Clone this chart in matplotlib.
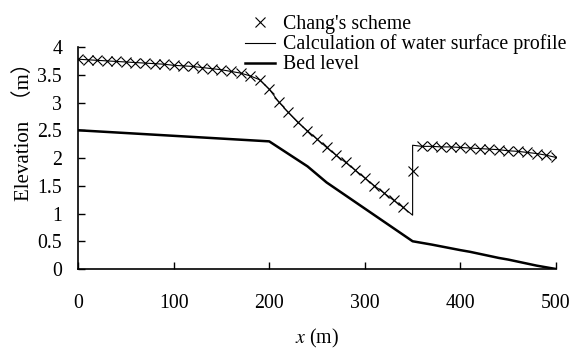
import matplotlib
matplotlib.use("Agg")
import matplotlib.pyplot as plt
from matplotlib.ticker import FuncFormatter

# water surface, every 10 m
x_ws = list(range(0, 510, 10))
ws_up = [3.78, 3.77, 3.76, 3.75, 3.74, 3.73, 3.72, 3.71, 3.70, 3.69,
         3.67, 3.66, 3.65, 3.63, 3.61, 3.59, 3.56, 3.53, 3.48, 3.41,
         3.24, 3.01, 2.82, 2.64, 2.49, 2.34, 2.19, 2.05, 1.92, 1.78,
         1.64, 1.50, 1.37, 1.24, 1.11]
ws_jump_low = 0.97
ws_jump_high = 2.23
chang_at_jump = 1.77
ws_down = [2.21, 2.21, 2.20, 2.20, 2.19, 2.18, 2.17, 2.16, 2.15, 2.13,
           2.12, 2.10, 2.08, 2.05, 2.01]

# bed level
x_bed = [0, 200, 240, 260, 350, 370, 400, 410, 440, 450, 480, 500]
bed = [2.5, 2.3, 1.85, 1.56, 0.5, 0.44, 0.34, 0.31, 0.2, 0.17, 0.06, 0.0]

chang_y = ws_up + [chang_at_jump] + ws_down
line_x = x_ws[:35] + [350, 350] + x_ws[36:]
line_y = ws_up + [ws_jump_low, ws_jump_high] + ws_down

plt.rcParams['font.family'] = ['Liberation Serif', 'Noto Sans CJK SC']
plt.rcParams['mathtext.fontset'] = 'stix'
FS = 14.3

fig = plt.figure(figsize=(5.81, 3.49), dpi=100)
ax = fig.add_axes([0.1343, 0.2292, 0.8227, 0.6361])

h1, = ax.plot(x_ws, chang_y, ls='none', marker='x', ms=7, mew=0.8,
              color='black', label="Chang's scheme")
h2, = ax.plot(line_x, line_y, color='black', lw=0.8,
              label='Calculation of water surface profile')
h3, = ax.plot(x_bed, bed, color='black', lw=1.8, label='Bed level')

ax.set_xlim(0, 500)
ax.set_ylim(0, 4)
ax.set_xticks(range(0, 600, 100))
ax.set_yticks([i * 0.5 for i in range(9)])
ax.yaxis.set_major_formatter(FuncFormatter(lambda v, p: '%g' % v))
ax.tick_params(direction='in', length=5, width=1, labelsize=FS)
ax.tick_params(axis='x', pad=18)
ax.tick_params(axis='y', pad=11.5)
for s in ['top', 'right']:
    ax.spines[s].set_visible(False)
for s in ['left', 'bottom']:
    ax.spines[s].set_linewidth(1.2)

ax.set_xlabel('$x$ (m)', fontsize=FS, labelpad=10)
ax.set_ylabel('Elevation  （m）', fontsize=15)
ax.yaxis.set_label_coords(-0.092, 0.64)

fig.legend(handles=[h1, h2, h3], loc='upper left',
           bbox_to_anchor=(0.408, 0.981), frameon=False, fontsize=FS,
           handlelength=1.5, handletextpad=0.4, labelspacing=0.05,
           borderaxespad=0)

fig.savefig('out.png', dpi=100)
